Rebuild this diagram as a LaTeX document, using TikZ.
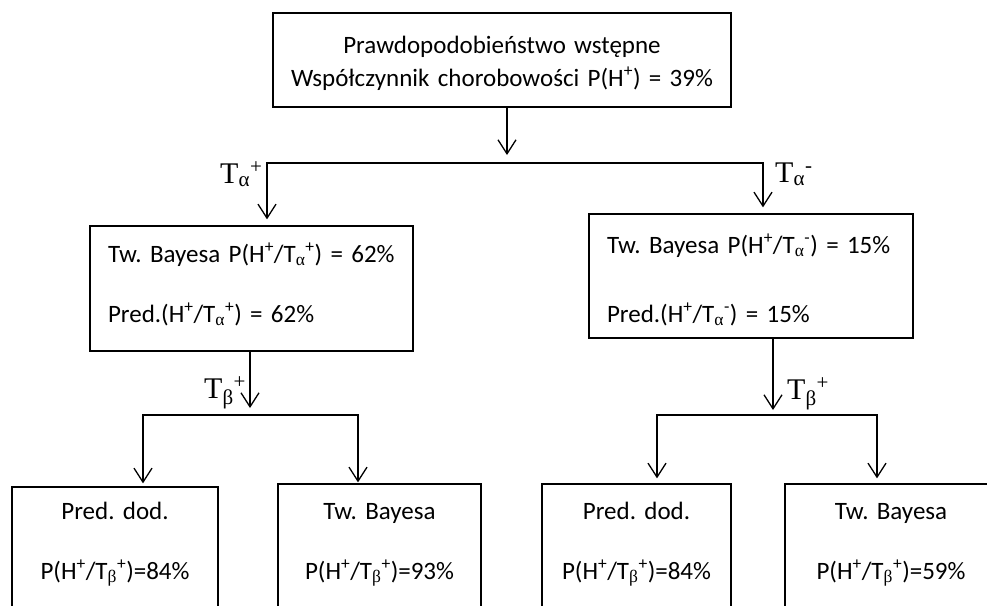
\documentclass[tikz,border=0pt]{standalone}
\usepackage{fontspec}
\setmainfont{Carlito}
\newfontfamily\tnr{Liberation Serif}
\usetikzlibrary{arrows.meta}
\frenchspacing
\newcommand\gal{{\tnr α}}
\newcommand\gbe{{\tnr β}}
\newcommand\Hp{H\textsuperscript{+}}
\newcommand\Tap{T\textsubscript{\gal}\textsuperscript{+}}
\newcommand\Tam{T\textsubscript{\gal}\textsuperscript{-}}
\newcommand\Tbp{T\textsubscript{\gbe}\textsuperscript{+}}
\tikzset{
  box/.style={draw, line width=1.3pt, inner xsep=0pt, inner ysep=0pt, anchor=base,
    font=\fontsize{25}{30}\selectfont},
  lbox/.style={box, align=left, execute at begin node={\leftskip=18pt\frenchspacing}},
  cbox/.style={box, align=center, execute at begin node={\frenchspacing}},
  lbl/.style={anchor=base west, inner sep=0pt, font=\tnr\fontsize{30}{36}\selectfont},
  conn/.style={line width=1.3pt, line cap=rect},
  arr/.style={conn, -{Straight Barb[length=14pt,width=18pt]}}
}
\begin{document}
\begin{tikzpicture}[x=1pt,y=-1pt]
\useasboundingbox (0,0) rectangle (987,605);
\clip (0,0) rectangle (987,605);
% boxes
\node[cbox, text width=458pt, text height=40pt, text depth=54pt]
  (top) at (502,53) {Prawdopodobieństwo wstępne\\[3pt]Współczynnik chorobowości P(\Hp) = 39\%};
\node[lbox, text width=323pt, text height=36pt, text depth=89pt]
  (b1) at (251.5,262) {Tw. Bayesa P(\Hp/\Tap) = 62\%\\[30pt]Pred.(\Hp/\Tap) = 62\%};
\node[lbox, text width=324pt, text height=39pt, text depth=85pt]
  (b2) at (751,253) {Tw. Bayesa P(\Hp/\Tam) = 15\%\\[39pt]Pred.(\Hp/\Tam) = 15\%};
\node[cbox, text width=206pt, text height=32pt, text depth=150pt]
  (c1) at (115,519) {Pred. dod.\\[30pt]P(\Hp/\Tbp)=84\%};
\node[cbox, text width=203pt, text height=35pt, text depth=150pt]
  (c2) at (379.5,519) {Tw. Bayesa\\[30pt]P(\Hp/\Tbp)=93\%};
\node[cbox, text width=189pt, text height=35pt, text depth=150pt]
  (c3) at (636.5,519) {Pred. dod.\\[30pt]P(\Hp/\Tbp)=84\%};
\node[cbox, text width=212pt, text height=35pt, text depth=150pt]
  (c4) at (891,519) {Tw. Bayesa\\[30pt]P(\Hp/\Tbp)=59\%};
% labels
\node[lbl] (la1) at (220,183) {\Tap};
\node[lbl] (la2) at (775,182) {\Tam};
\node[lbl] (lb1) at (204,398) {\Tbp};
\node[lbl] (lb2) at (787,399) {\Tbp};
% junctions
\coordinate (jT) at (507,163);
\coordinate (jL) at (267,163);
\coordinate (jR) at (763,163);
\coordinate (kL) at (250,415);
\coordinate (kL1) at (143,415);
\coordinate (kL2) at (358,415);
\coordinate (kR) at (773,415);
\coordinate (kR1) at (657,415);
\coordinate (kR2) at (877,415);
% connectors
\draw[arr, shorten >=8pt] (top.south -| jT) -- (jT);
\draw[arr, shorten >=6pt] (jR) -- (jL) -- (b1.north -| jL);
\draw[arr, shorten >=6pt] (jR) -- (b2.north -| jR);
\draw[arr, shorten >=7pt] (b1.south -| kL) -- (kL);
\draw[arr, shorten >=3pt] (kL2) -- (kL1) -- (c1.north -| kL1);
\draw[arr, shorten >=1pt] (kL2) -- (c2.north -| kL2);
\draw[arr, shorten >=5pt] (b2.south -| kR) -- (kR);
\draw[arr, shorten >=5pt] (kR2) -- (kR1) -- (c3.north -| kR1);
\draw[arr, shorten >=5pt] (kR2) -- (c4.north -| kR2);
\end{tikzpicture}
\end{document}
